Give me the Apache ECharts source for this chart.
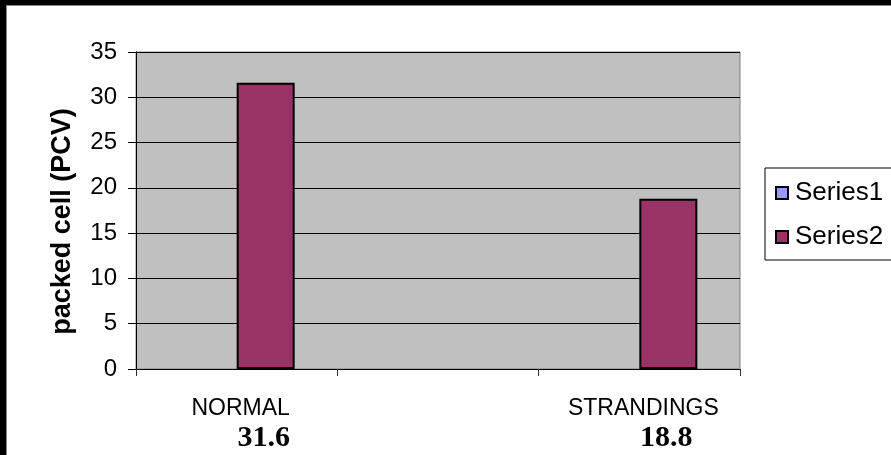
<!DOCTYPE html>
<html>
<head>
<meta charset="utf-8">
<script src="https://cdn.jsdelivr.net/npm/echarts@6/dist/echarts.min.js"></script>
<style>
html,body{margin:0;padding:0;background:#fff;}
#chart{width:891px;height:455px;}
</style>
</head>
<body>
<div id="chart"></div>
<script>
const categories = ['NORMAL', '', 'STRANDINGS'];
const series1Values = [null, null, null];
const series2Values = [31.6, null, 18.8];
const valueLabels = ['31.6', '', '18.8'];
const seriesNames = ['Series1', 'Series2'];
const yTitle = 'packed cell (PCV)';

const chart = echarts.init(document.getElementById('chart'));
chart.setOption({
  animation: false,
  backgroundColor: '#ffffff',
  graphic: [
    { type: 'rect', shape: { x: 0, y: 0, width: 6, height: 455 }, style: { fill: '#000' }, z: 100 },
    { type: 'rect', shape: { x: 6, y: 5, width: 1, height: 450 }, style: { fill: '#888' }, z: 100 },
    { type: 'rect', shape: { x: 0, y: 0, width: 891, height: 5 }, style: { fill: '#000' }, z: 100 },
    { type: 'rect', shape: { x: 6, y: 5, width: 885, height: 1 }, style: { fill: '#888' }, z: 100 }
  ],
  grid: {
    left: 136, right: 151, top: 52, bottom: 86,
    show: true, backgroundColor: '#C0C0C0', borderColor: '#808080', borderWidth: 1
  },
  legend: {
    data: seriesNames,
    orient: 'vertical',
    left: 765, top: 168,
    padding: [12, 60, 10, 10],
    itemGap: 18,
    itemWidth: 12, itemHeight: 12,
    icon: 'rect',
    backgroundColor: '#fff',
    borderColor: '#000', borderWidth: 1,
    textStyle: { fontFamily: 'Liberation Sans, Arial, sans-serif', fontSize: 26, color: '#000', padding: [0, 0, 0, 2] }
  },
  xAxis: {
    type: 'category',
    data: categories,
    axisLine: { lineStyle: { color: '#000', width: 1 } },
    axisTick: { show: true, length: 7, lineStyle: { color: '#333' } },
    axisLabel: {
      interval: 0,
      margin: 26,
      formatter: function (v, i) {
        if (!v) return '';
        return '{c|' + v + '}\n{v|' + valueLabels[i] + '}';
      },
      rich: {
        c: { fontFamily: 'Liberation Sans, Arial, sans-serif', fontSize: 23, color: '#000', lineHeight: 28, padding: [0, 0, 0, 8] },
        v: { fontFamily: 'Liberation Serif, Times New Roman, serif', fontWeight: 'bold', fontSize: 30, color: '#000', lineHeight: 30, padding: [0, 0, 0, 54] }
      }
    }
  },
  yAxis: {
    type: 'value',
    min: 0, max: 35, interval: 5,
    name: yTitle,
    nameLocation: 'middle',
    nameGap: 60,
    nameTextStyle: { fontFamily: 'Liberation Sans, Arial, sans-serif', fontWeight: 'bold', fontSize: 27, color: '#000', padding: [0, 22, 0, 0] },
    axisLine: { show: true, lineStyle: { color: '#000', width: 1 } },
    axisTick: { show: true, length: 8, lineStyle: { color: '#000' } },
    axisLabel: { margin: 19, fontFamily: 'Liberation Sans, Arial, sans-serif', fontSize: 24, color: '#000' },
    splitLine: { show: true, lineStyle: { color: '#000', width: 1 } }
  },
  series: [
    {
      name: seriesNames[0], type: 'bar', data: series1Values,
      barWidth: 58, barGap: '0%',
      itemStyle: { color: '#9999FF', borderColor: '#000', borderWidth: 2 }
    },
    {
      name: seriesNames[1], type: 'bar', data: series2Values,
      barWidth: 58, barGap: '0%',
      itemStyle: { color: '#993366', borderColor: '#000', borderWidth: 2 }
    }
  ]
});
</script>
</body>
</html>
